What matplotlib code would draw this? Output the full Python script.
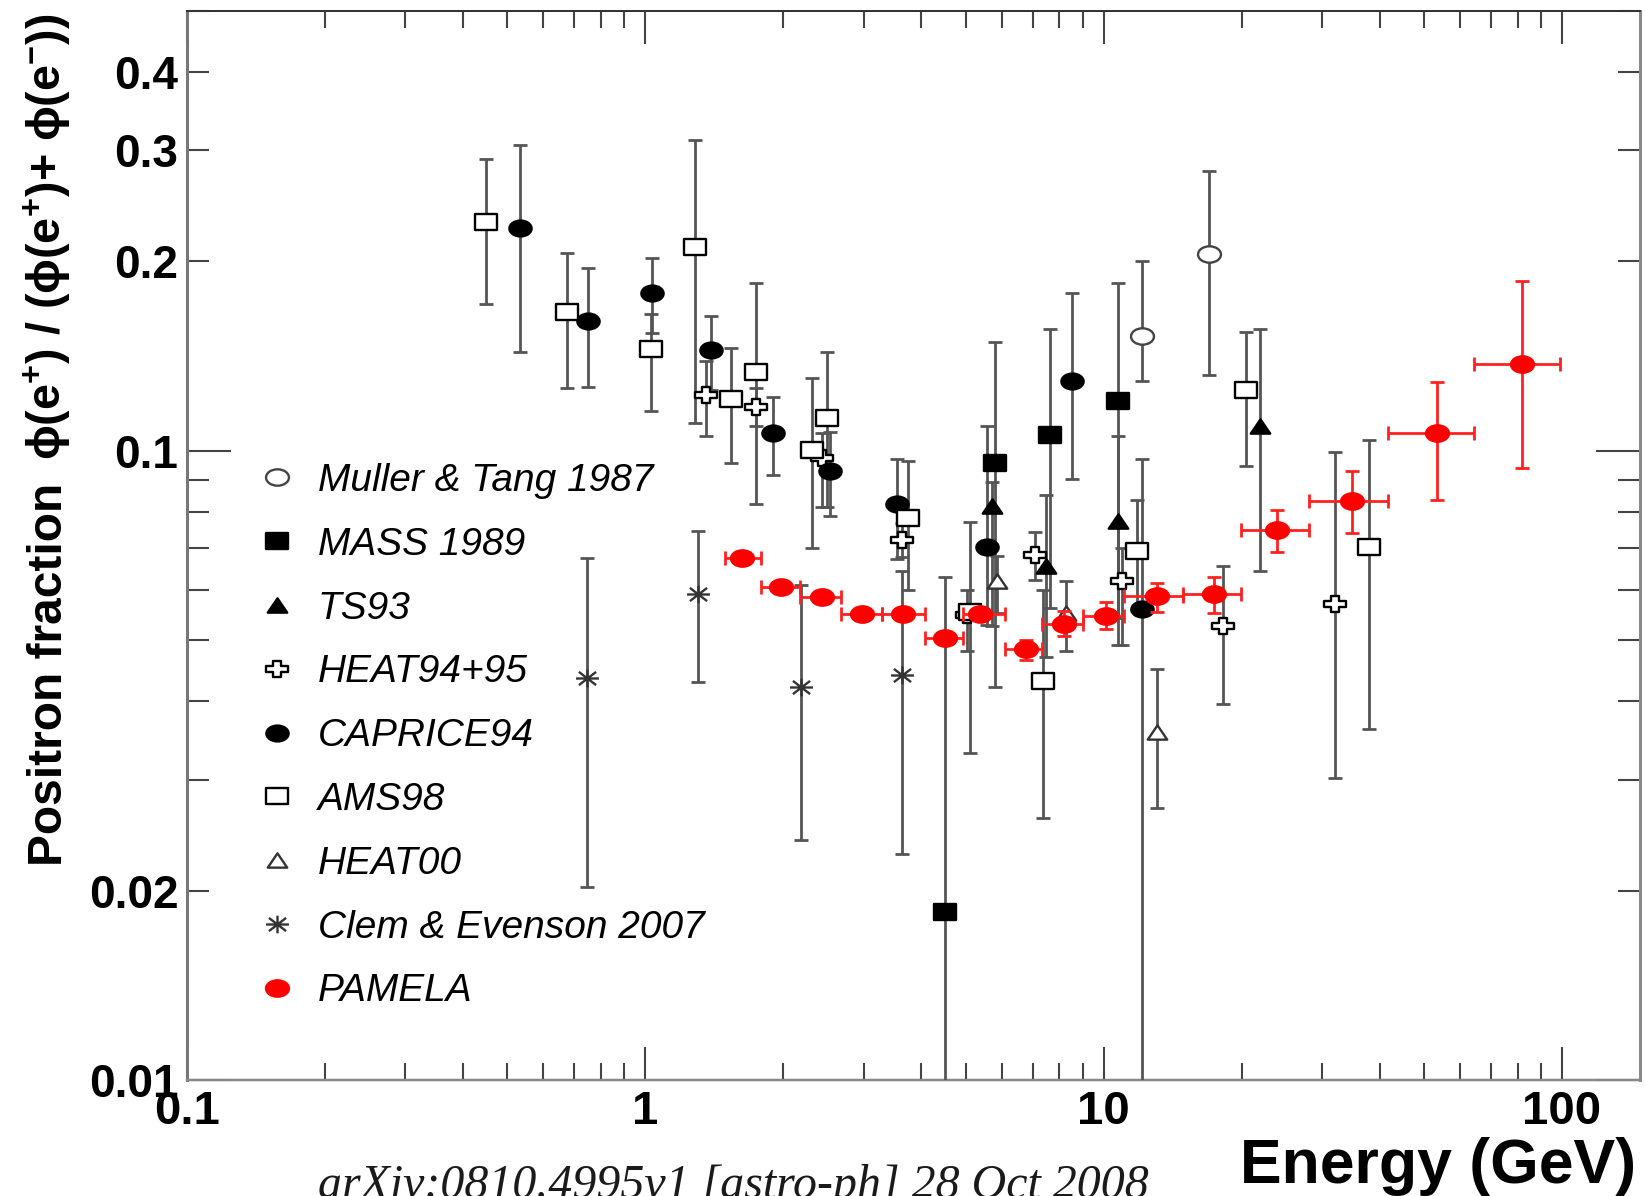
import matplotlib
matplotlib.use("Agg")
import matplotlib.pyplot as plt
from matplotlib.path import Path
from matplotlib.transforms import Affine2D
from matplotlib.ticker import FixedLocator, FuncFormatter, NullFormatter

# ---- data: energy (GeV), positron fraction, lower / upper end of error bar ----
muller_e = [12.1, 17.0]
muller_f = [0.152, 0.205]
muller_lo = [0.129, 0.132]
muller_hi = [0.200, 0.278]

mass_e = [4.5, 5.8, 7.64, 10.77]
mass_f = [0.0185, 0.0956, 0.106, 0.1198]
mass_lo = [0.005, 0.0421, 0.0563, 0.0492]
mass_hi = [0.0631, 0.1488, 0.156, 0.1849]

ts93_e = [5.70, 7.49, 10.74, 21.9]
ts93_f = [0.0816, 0.0657, 0.0772, 0.1093]
ts93_lo = [0.0526, 0.047, 0.0542, 0.0643]
ts93_hi = [0.0892, 0.0851, 0.1054, 0.156]

heat95_e = [1.356, 1.746, 2.43, 3.63, 5.03, 7.09, 10.96, 18.2, 32.0]
heat95_f = [0.1224, 0.1173, 0.0974, 0.0722, 0.0549, 0.0684, 0.0621, 0.0526, 0.0571]
heat95_lo = [0.1057, 0.1093, 0.0813, 0.0679, 0.0481, 0.0624, 0.0492, 0.0396, 0.0302]
heat95_hi = [0.1387, 0.1258, 0.1067, 0.0769, 0.060, 0.0743, 0.070, 0.0657, 0.0994]

caprice_e = [0.533, 0.750, 1.037, 1.392, 1.898, 2.53, 3.54, 5.58, 8.52, 12.1]
caprice_f = [0.2254, 0.1609, 0.178, 0.1443, 0.1067, 0.0929, 0.0824, 0.0702, 0.1288, 0.0561]
caprice_lo = [0.1435, 0.1262, 0.1538, 0.125, 0.0914, 0.0788, 0.0672, 0.0528, 0.0902, 0.005]
caprice_hi = [0.306, 0.195, 0.2024, 0.1635, 0.1215, 0.1069, 0.0971, 0.1093, 0.178, 0.097]

ams_e = [0.450, 0.675, 1.028, 1.287, 1.537, 1.746, 2.31, 2.49, 3.75, 5.11, 7.39, 11.8, 20.5, 38.0]
ams_f = [0.231, 0.1659, 0.1453, 0.2109, 0.1208, 0.1334, 0.1001, 0.1127, 0.0782, 0.0555, 0.0431, 0.0692, 0.1247, 0.0703]
ams_lo = [0.171, 0.1258, 0.1155, 0.1107, 0.0956, 0.0823, 0.070, 0.0813, 0.0601, 0.0331, 0.0261, 0.0559, 0.0944, 0.0361]
ams_hi = [0.291, 0.206, 0.165, 0.312, 0.1456, 0.1847, 0.1304, 0.1435, 0.0962, 0.0770, 0.060, 0.0834, 0.1543, 0.1040]

heat00_e = [5.85, 8.28, 13.07]
heat00_f = [0.0620, 0.0552, 0.0358]
heat00_lo = [0.0553, 0.0480, 0.0271]
heat00_hi = [0.0681, 0.0622, 0.0450]

clem_e = [0.748, 1.302, 2.184, 3.63]
clem_f = [0.0435, 0.0593, 0.0422, 0.0440]
clem_lo = [0.0203, 0.0430, 0.0241, 0.0229]
clem_hi = [0.0675, 0.0746, 0.0611, 0.0643]

pamela_e = [1.63, 1.98, 2.43, 2.97, 3.66, 4.50, 5.38, 6.78, 8.21, 10.13, 13.07, 17.42, 23.87, 34.8, 53.3, 81.9]
pamela_f = [0.0675, 0.0608, 0.0585, 0.0551, 0.0551, 0.0504, 0.0550, 0.0484, 0.0530, 0.0547, 0.0588, 0.0592, 0.0747, 0.0832, 0.1066, 0.1373]
pamela_lo = [0.0667, 0.0601, 0.0578, 0.0544, 0.0543, 0.0496, 0.0540, 0.0466, 0.0507, 0.0521, 0.0554, 0.0552, 0.0690, 0.0741, 0.0835, 0.0939]
pamela_hi = [0.0683, 0.0615, 0.0592, 0.0558, 0.0559, 0.0512, 0.0560, 0.0500, 0.0556, 0.0576, 0.0616, 0.0631, 0.0806, 0.0928, 0.1286, 0.1858]
pamela_bins = [1.49, 1.79, 2.18, 2.68, 3.28, 4.07, 4.94, 6.10, 7.33, 9.04, 11.1, 14.9, 19.9, 28.0, 41.8, 64.3, 99.1]

labels = ["Muller & Tang 1987", "MASS 1989", "TS93", "HEAT94+95", "CAPRICE94",
          "AMS98", "HEAT00", "Clem & Evenson 2007", "PAMELA"]


def wide(verts, codes=None, sx=1.38):
    # markers in this plot are a bit wider than tall
    return Path(verts, codes).transformed(Affine2D().scale(sx, 1.0))


CIRCLE = Path.unit_circle().transformed(Affine2D().scale(1.4, 1.0))
SQUARE = wide([(-1, -1), (1, -1), (1, 1), (-1, 1), (-1, -1)],
              [Path.MOVETO, Path.LINETO, Path.LINETO, Path.LINETO, Path.CLOSEPOLY], sx=1.3)
TRIANGLE = wide([(-0.68, -0.5), (0.68, -0.5), (0, 0.5), (-0.68, -0.5)],
                [Path.MOVETO, Path.LINETO, Path.LINETO, Path.CLOSEPOLY], sx=1.0)
t = 0.36
CROSS = wide([(-t, 1), (t, 1), (t, t), (1, t), (1, -t), (t, -t), (t, -1), (-t, -1),
              (-t, -t), (-1, -t), (-1, t), (-t, t), (-t, 1)],
             [Path.MOVETO] + [Path.LINETO] * 11 + [Path.CLOSEPOLY], sx=1.35)
STAR = wide([(-1, 0), (1, 0), (0, -1), (0, 1), (-0.75, -0.75), (0.75, 0.75), (-0.75, 0.75), (0.75, -0.75)],
            [Path.MOVETO, Path.LINETO] * 4, sx=1.3)


def draw_set(ax, e, f, lo, hi, marker, ms, face, edge, label, ecolor="#555555", z=3, xerr=None):
    yerr = [[v - l for v, l in zip(f, lo)], [h - v for v, h in zip(f, hi)]]
    ax.errorbar(e, f, yerr=yerr, xerr=xerr, fmt="none", ecolor=ecolor, elinewidth=2.0,
                capsize=5, capthick=2.0, zorder=z)
    pts, = ax.plot(e, f, linestyle="none", marker=marker, ms=ms, mfc=face, mec=edge,
                   mew=1.7, zorder=z + 0.5, label=label)
    return pts


plt.rcParams["font.family"] = ["Liberation Sans", "DejaVu Sans"]
plt.rcParams["font.weight"] = "bold"
plt.rcParams["mathtext.fontset"] = "dejavusans"
plt.rcParams["mathtext.default"] = "regular"

fig = plt.figure(figsize=(16.45, 11.96), dpi=100)
ax = fig.add_axes([0.1135, 0.0966, 0.8835, 0.8946])
ax.set_xscale("log")
ax.set_yscale("log")
ax.set_xlim(0.1, 148)
ax.set_ylim(0.01, 0.5)

handles = []
handles.append(draw_set(ax, muller_e, muller_f, muller_lo, muller_hi, CIRCLE, 16.5, "white", "#444444", labels[0]))
handles.append(draw_set(ax, mass_e, mass_f, mass_lo, mass_hi, SQUARE, 15.5, "black", "black", labels[1]))
handles.append(draw_set(ax, ts93_e, ts93_f, ts93_lo, ts93_hi, TRIANGLE, 14, "black", "black", labels[2]))
handles.append(draw_set(ax, heat95_e, heat95_f, heat95_lo, heat95_hi, CROSS, 16, "white", "black", labels[3]))
handles.append(draw_set(ax, caprice_e, caprice_f, caprice_lo, caprice_hi, CIRCLE, 16, "black", "black", labels[4]))
handles.append(draw_set(ax, ams_e, ams_f, ams_lo, ams_hi, SQUARE, 15.5, "white", "black", labels[5]))
handles.append(draw_set(ax, heat00_e, heat00_f, heat00_lo, heat00_hi, TRIANGLE, 14, "white", "#333333", labels[6]))
handles.append(draw_set(ax, clem_e, clem_f, clem_lo, clem_hi, STAR, 16.5, "none", "#333333", labels[7]))

# PAMELA points carry horizontal bars for the energy bins
pam_xerr = [[e - b for e, b in zip(pamela_e, pamela_bins[:-1])],
            [b - e for e, b in zip(pamela_e, pamela_bins[1:])]]
handles.append(draw_set(ax, pamela_e, pamela_f, pamela_lo, pamela_hi, CIRCLE, 16.5, "red", "red",
                        labels[8], ecolor="#ff2020", z=6, xerr=pam_xerr))

# axes frame
for side, lw, col in [("left", 3, "#777777"), ("bottom", 2.5, "#888888"),
                      ("top", 2, "#333333"), ("right", 3, "#8a8a8a")]:
    ax.spines[side].set_linewidth(lw * 0.72)
    ax.spines[side].set_color(col)

ax.xaxis.set_major_locator(FixedLocator([0.1, 1, 10, 100]))
ax.xaxis.set_major_formatter(FuncFormatter(lambda v, p: "0.1" if v < 0.5 else "%d" % v))
ax.xaxis.set_minor_locator(FixedLocator([m * d for d in (0.1, 1, 10, 100) for m in range(2, 10)]))
ax.xaxis.set_minor_formatter(NullFormatter())

ax.yaxis.set_major_locator(FixedLocator([0.01, 0.1]))
ax.yaxis.set_major_formatter(FuncFormatter(lambda v, p: "%g" % v))
ax.yaxis.set_minor_locator(FixedLocator([m * 0.01 for m in range(2, 10)] + [m * 0.1 for m in range(2, 6)]))
shown = {0.02: "0.02", 0.2: "0.2", 0.3: "0.3", 0.4: "0.4"}
ax.yaxis.set_minor_formatter(FuncFormatter(lambda v, p: shown.get(round(v, 3), "")))

ax.tick_params(which="both", direction="in", top=True, right=True, color="#444444", width=1.5)
ax.tick_params(axis="x", which="major", length=24, labelsize=34, pad=7)
ax.tick_params(axis="x", which="minor", length=12.5)
ax.tick_params(axis="y", which="major", length=32, labelsize=33, pad=6)
ax.tick_params(axis="y", which="minor", length=16, labelsize=33, pad=6)

leg = ax.legend(handles=handles, loc="upper left", bbox_to_anchor=(258 / 1645, 1 - 463 / 1196),
                bbox_transform=fig.transFigure, frameon=False, numpoints=1,
                prop=dict(family="Liberation Sans", style="italic", weight="normal", size=28),
                handlelength=1.0, handletextpad=0.53, labelspacing=0.715, borderpad=0, borderaxespad=0)

fig.text(50 / 1645, 1 - 674 / 1196, "Positron fraction", rotation=90, ha="center", va="center",
         size=34.5, weight="bold")
fig.text(47 / 1645, 1 - 237 / 1196, r"$\phi$(e$^{+}$) / ($\phi$(e$^{+}$)+ $\phi$(e$^{-}$))",
         rotation=90, ha="center", va="center", size=33.5, weight="bold")
fig.text(1636 / 1645, 1 - 1166 / 1196, "Energy (GeV)", ha="right", va="center", size=45, weight="bold")
fig.text(318 / 1645, -0.002, "arXiv:0810.4995v1 [astro-ph] 28 Oct 2008", ha="left", va="baseline",
         family="Liberation Serif", style="italic", weight="normal", size=34.5, color="#1a1a1a")

fig.savefig("out.png", dpi=100)
